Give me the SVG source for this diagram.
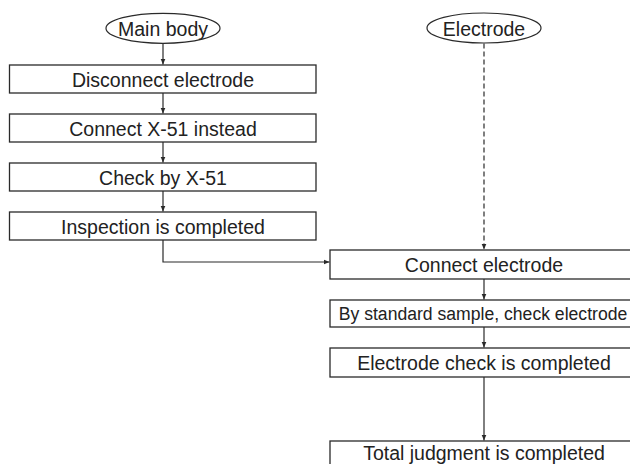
<svg xmlns="http://www.w3.org/2000/svg" width="630" height="464" viewBox="0 0 630 464">
<style>
.box{fill:#fff;stroke:#2a2a2a;stroke-width:1.3}
.ell{fill:#fff;stroke:#2a2a2a;stroke-width:1.2}
.t{font-family:"Liberation Sans",Arial,sans-serif;font-size:19.5px;fill:#222;text-anchor:middle}
.c{fill:none;stroke:#2a2a2a;stroke-width:1.2}
.d{stroke-dasharray:5 3}
</style>
<defs>
<marker id="ah" viewBox="0 0 6 6" refX="6" refY="3" markerWidth="6" markerHeight="6" markerUnits="userSpaceOnUse" orient="auto">
<path d="M0,0.5 L6,3 L0,5.5 Z" fill="#2a2a2a"/>
</marker>
</defs>
<rect width="630" height="464" fill="#fff"/>
<g id="connectors">
<path class="c" d="M163,43.5 V64.5" marker-end="url(#ah)"/>
<path class="c" d="M163,93 V113.5" marker-end="url(#ah)"/>
<path class="c" d="M163,142 V162.5" marker-end="url(#ah)"/>
<path class="c" d="M163,191 V211.5" marker-end="url(#ah)"/>
<path class="c" d="M163,240 V262 H329.5" marker-end="url(#ah)"/>
<path class="c d" d="M484,43.5 V249.5" marker-end="url(#ah)"/>
<path class="c" d="M484,279 V299.5" marker-end="url(#ah)"/>
<path class="c" d="M484,327 V347.5" marker-end="url(#ah)"/>
<path class="c" d="M484,377 V440.5" marker-end="url(#ah)"/>
</g>
<g id="main-body">
<ellipse class="ell" cx="163" cy="28.3" rx="57" ry="15"/>
<text class="t" x="163" y="35.5">Main body</text>
</g>
<g id="electrode">
<ellipse class="ell" cx="484" cy="28" rx="57" ry="15"/>
<text class="t" x="484" y="35.5">Electrode</text>
</g>
<g id="disconnect">
<rect class="box" x="9.5" y="65" width="306.5" height="28"/>
<text class="t" x="163" y="86.5">Disconnect electrode</text>
</g>
<g id="connect-x51">
<rect class="box" x="9.5" y="114" width="306.5" height="28"/>
<text class="t" x="163" y="135.5">Connect X-51 instead</text>
</g>
<g id="check-x51">
<rect class="box" x="9.5" y="163" width="306.5" height="28"/>
<text class="t" x="163" y="184.5">Check by X-51</text>
</g>
<g id="inspection-completed">
<rect class="box" x="9.5" y="212" width="306.5" height="28"/>
<text class="t" x="163" y="233.5">Inspection is completed</text>
</g>
<g id="connect-electrode">
<rect class="box" x="330" y="250" width="320" height="29"/>
<text class="t" x="484" y="272">Connect electrode</text>
</g>
<g id="standard-sample">
<rect class="box" x="330" y="300" width="320" height="27"/>
<text class="t" x="483" y="320" style="font-size:17.6px">By standard sample, check electrode</text>
</g>
<g id="electrode-check-completed">
<rect class="box" x="330" y="348" width="320" height="29"/>
<text class="t" x="484" y="370">Electrode check is completed</text>
</g>
<g id="total-judgment">
<rect class="box" x="330" y="441" width="320" height="40"/>
<text class="t" x="484" y="459.5">Total judgment is completed</text>
</g>
</svg>
